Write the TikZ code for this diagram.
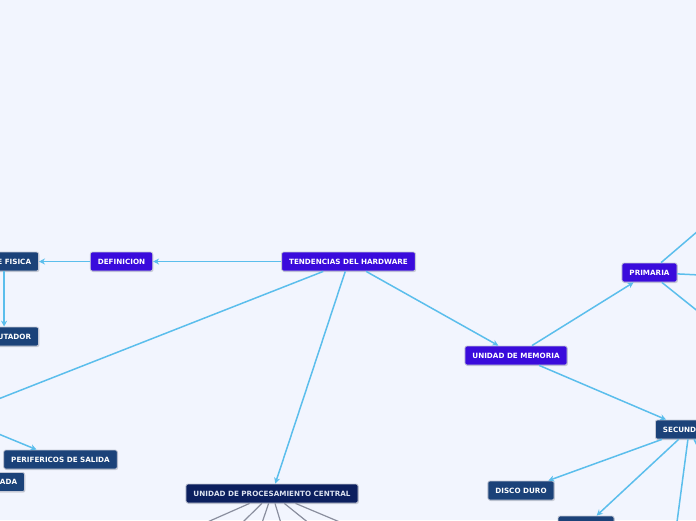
\documentclass[tikz,border=0pt]{standalone}
\usepackage{fontspec}
\setmainfont{DejaVu Sans}
\usetikzlibrary{arrows.meta,positioning,shadows}
\definecolor{bg}{HTML}{F2F5FE}
\definecolor{topic}{HTML}{3A0BDC}
\definecolor{sub}{HTML}{1B4279}
\definecolor{cpu}{HTML}{0C1F5E}
\definecolor{link}{HTML}{5BBEEC}
\definecolor{rim}{HTML}{C4C8D6}
\definecolor{spoke}{HTML}{8A8E9E}

\begin{document}
\begin{tikzpicture}[x=1pt,y=-1pt,>={Stealth[length=6pt,width=6pt]},
 box/.style={rectangle,rounded corners=2pt,draw=rim,line width=0.8pt,text=white,font=\fontsize{7.2}{8}\selectfont\bfseries,minimum height=19pt,inner xsep=7.5pt,inner ysep=0pt,drop shadow={shadow xshift=0.8pt,shadow yshift=-1pt,fill=black,opacity=0.15}},
 tb/.style={box,fill=topic},sb/.style={box,fill=sub},cb/.style={box,fill=cpu,text={rgb,255:red,220;green,226;blue,240}},
 ln/.style={draw=link,line width=1.5pt},gl/.style={draw=spoke,line width=1.2pt}]
\fill[bg] (0,0) rectangle (696,520);\useasboundingbox (0,0) rectangle (696,520);\clip (0,0) rectangle (696,520);
\coordinate (perif) at (-45,416);\coordinate (s1) at (672,560);\coordinate (s2) at (740,531);
\coordinate (p1) at (740,195);\coordinate (p2) at (760,278);\coordinate (p3) at (740,345);
\foreach \x [count=\i] in {152,218,254,288,338,398} \coordinate (u\i) at (\x,546.5);
\node[tb] (root) at (348.5,261.5) {TENDENCIAS DEL HARDWARE};
\node[tb] (def) at (121.5,261.5) {DEFINICION};
\node[sb,anchor=east] (pf) at (39,261.5) {PARTE FISICA};
\node[sb,anchor=east] (comp) at (39,336.5) {COMPUTADOR};
\node[sb] (sal) at (60.5,459.5) {PERIFERICOS DE SALIDA};
\node[sb,anchor=east] (ent) at (25,482) {PERIFERICOS DE ENTRADA};
\node[cb] (upc) at (272,493.5) {UNIDAD DE PROCESAMIENTO CENTRAL};
\node[tb] (mem) at (516,355.5) {UNIDAD DE MEMORIA};
\node[tb] (pri) at (649.5,272.5) {PRIMARIA};
\node[sb,anchor=west] (sec) at (655,429.5) {SECUNDARIA};
\node[sb] (dd) at (521,490.5) {DISCO DURO};
\node[sb,minimum width=56pt] (sx) at (586,525.5) {};
\draw[ln,->] (root) -- (def);\draw[ln,->] (def) -- (pf);
\draw[ln,->] (pf.south) -- (pf.south |- comp.north);
\draw[ln] (root) -- (perif);\draw[ln,->] (perif) -- (sal);
\draw[ln,->] (root) -- (upc);\draw[ln,->] (root) -- (mem);
\draw[ln,->] (mem) -- (pri);\draw[ln,->] (mem) -- (sec);
\draw[ln,->] (sec) -- (dd);\draw[ln,->] (sec) -- (sx);
\draw[ln] (sec) -- (s1);\draw[ln] (sec) -- (s2);
\foreach \c in {p1,p2,p3} \draw[ln] (pri) -- (\c);
\foreach \i in {1,...,6} \draw[gl] (upc) -- (u\i);
\end{tikzpicture}
\end{document}
